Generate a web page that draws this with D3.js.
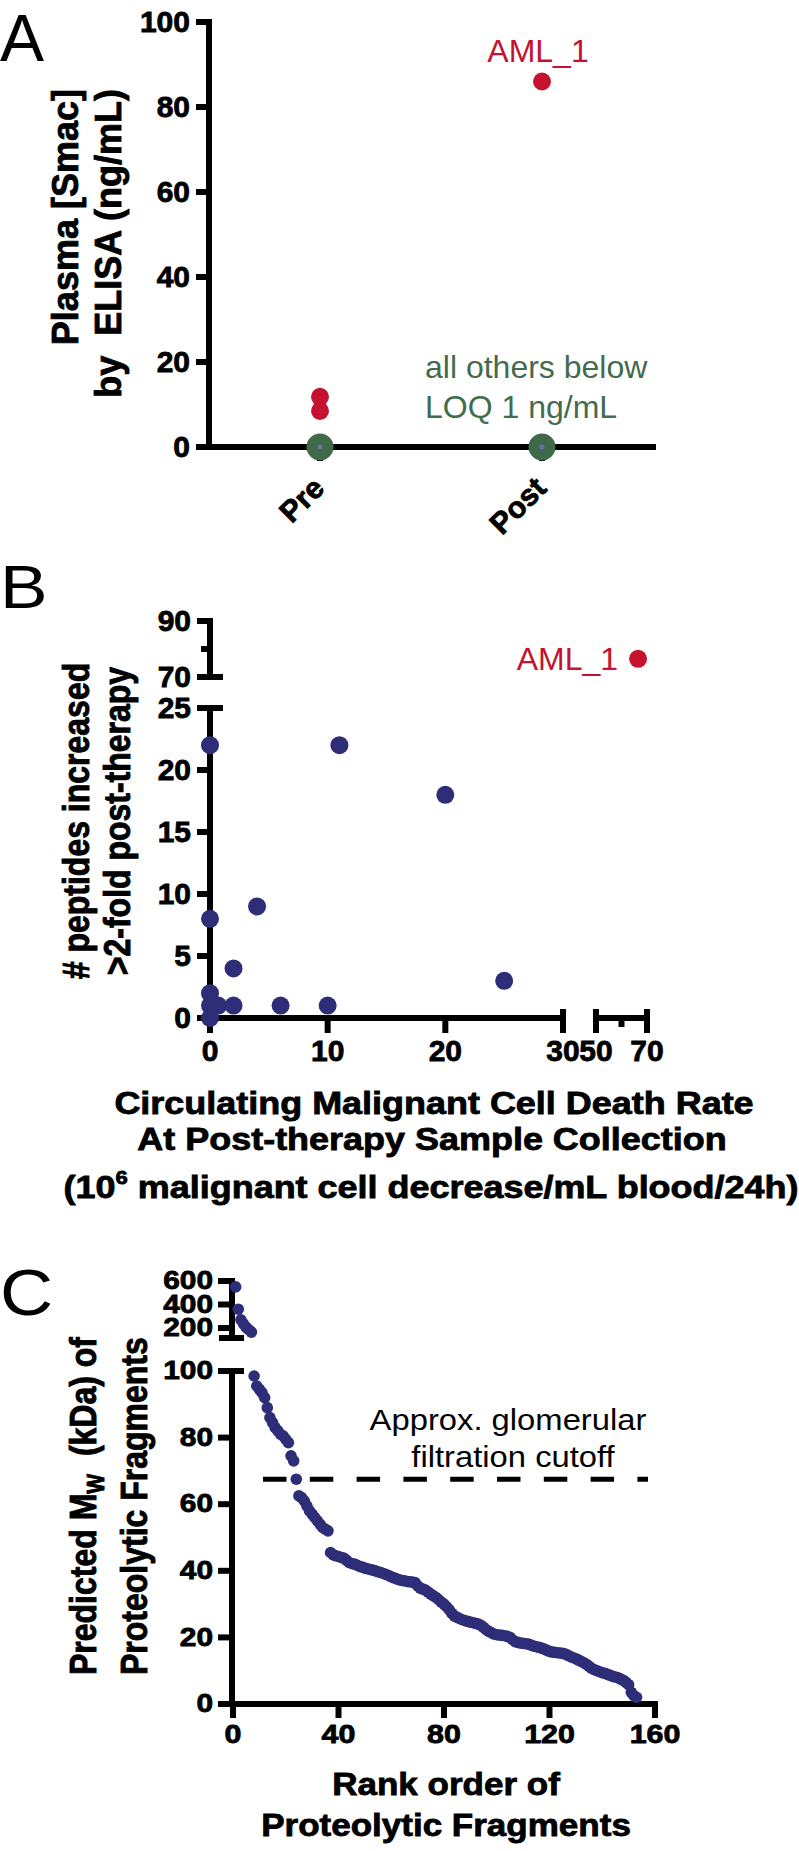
<!DOCTYPE html>
<html><head><meta charset="utf-8">
<script src="https://cdn.jsdelivr.net/npm/d3@7"></script>
<style>
body{margin:0;background:#fff;}
svg{display:block;}
</style></head><body>
<svg id="chart" width="799" height="1851"></svg>
<script>
// ---------------- Panel A data ----------------
const aGroups = ["Pre", "Post"];
const aYTicks = [0, 20, 40, 60, 80, 100];
const aDetectedGroup = ["Pre", "Pre", "Post"];
const aDetectedValue = [11.8, 8.5, 86];
const aBelowGroup = ["Pre", "Post"];
const aBelowValue = [0, 0];
const aDetectedLabel = "AML_1";
const aNote = ["all others below", "LOQ 1 ng/mL"];

// ---------------- Panel B data ----------------
const bRate     = [0, 11, 20, 4, 0, 2, 25, 0, 0, 0.7, 2, 6, 10, 0];
const bPeptides = [22, 22, 18, 9, 8, 4, 3, 2, 1, 1, 1, 1, 1, 0];
const bAmlRate = [66.5];
const bAmlPeptides = [76.5];
const bYTicksLow = [0, 5, 10, 15, 20, 25];
const bYTicksHigh = [70, 90];
const bYMinorHigh = [80];
const bXTicksLow = [0, 10, 20, 30];
const bXTicksHigh = [50, 70];
const bXMinorHigh = [60];

// ---------------- Panel C data ----------------
const cMw = [550, 360, 270, 235, 205, 185, 165,
  98.5, 95.5, 94.5, 93.5, 92, 89, 86, 84.5, 83, 82, 81, 80.5, 79.5, 78.5,
  74.5, 73, 67.5, 62.5, 62, 61, 59.5, 58, 57, 56, 55, 54, 53, 52.5, 52,
  45.5, 44.8, 44.5, 44.3, 44, 43.8, 43.2, 42.5, 42.2, 42, 41.7, 41.3, 41.1, 40.8,
  40.6, 40.4, 40.2, 40, 39.7, 39.5, 39.2, 38.9, 38.6, 38.2, 37.9, 37.6, 37.3, 37.1,
  37, 36.8, 36.7, 36.6, 36.5, 35.5, 34.8, 34.5, 34.2, 33.6, 33, 32.5, 32, 31.3,
  30.6, 30, 29.2, 28.3, 27.2, 26.4, 26, 25.6, 25.3, 25, 24.8, 24.6, 24.4, 24.2,
  24, 23.6, 23, 22.3, 21.8, 21.4, 21, 20.8, 20.7, 20.6, 20.5, 20.3, 20, 19.3,
  18.7, 18.5, 18.3, 18.2, 18.1, 18, 17.7, 17.4, 17.2, 17, 16.8, 16.5, 16.1, 15.8,
  15.6, 15.5, 15.4, 15.3, 15.2, 15, 14.6, 14.2, 13.9, 13.6, 13.2, 12.8, 12.4, 11.9,
  11.3, 10.7, 10.3, 10, 9.7, 9.4, 9.2, 8.9, 8.6, 8.3, 8.1, 7.9, 7.5, 7.1, 6.5, 5.8,
  3.5, 2.5, 2];
const cRank = cMw.map((d, i) => i + 1);
const cCutoff = [67.5];
const cYTicksLow = [0, 20, 40, 60, 80, 100];
const cYTicksHigh = [200, 400, 600];
const cXTicks = [0, 40, 80, 120, 160];
const cCutoffLabel = ["Approx. glomerular", "filtration cutoff"];

// ---------------- styling ----------------
const FONT = "'Liberation Sans', Arial, Helvetica, sans-serif";
const RED = "#c4122f", GREEN = "#436b4d", GREEN_DOT = "#3f6a48", NAVY = "#2d2d78";
const AX = 6;
const BOLD_STROKE = 0.8;

const svg = d3.select("#chart");
svg.append("rect").attr("width", 799).attr("height", 1851).attr("fill", "#fff");

function styleAxis(g, fs, sx) {
  g.attr("font-family", FONT).attr("font-size", fs || 30).attr("font-weight", "bold");
  g.select(".domain").attr("stroke", "#000").attr("stroke-width", AX).attr("stroke-linecap", "square");
  g.selectAll(".tick line").attr("stroke", "#000").attr("stroke-width", AX);
  g.selectAll(".tick text").attr("fill", "#000").attr("stroke", "#000").attr("stroke-width", BOLD_STROKE);
  if (sx && sx !== 1) {
    g.selectAll(".tick text").each(function () {
      const t = d3.select(this); const x = +t.attr("x") || 0;
      t.attr("transform", `translate(${x},0) scale(${sx},1) translate(${-x},0)`);
    });
  }
  return g;
}
function line(g, x1, y1, x2, y2, w) {
  g.append("line").attr("x1", x1).attr("y1", y1).attr("x2", x2).attr("y2", y2)
    .attr("stroke", "#000").attr("stroke-width", w || AX);
}
function txt(g, s, x, y, opt) {
  opt = opt || {};
  let tr = `translate(${x},${y})`;
  if (opt.sx && opt.sx !== 1) tr += ` scale(${opt.sx},1)`;
  if (opt.rot) tr += ` rotate(${opt.rot})`;
  const t = g.append("text").attr("x", 0).attr("y", 0).attr("transform", tr).text(s)
    .attr("font-family", FONT).attr("font-size", opt.size || 30)
    .attr("font-weight", opt.weight || "normal").attr("fill", opt.fill || "#000")
    .attr("text-anchor", opt.anchor || "start");
  if (opt.weight === "bold") t.attr("stroke", opt.fill || "#000").attr("stroke-width", BOLD_STROKE);
  return t;
}

// ================= Panel A =================
const gA = svg.append("g");
const xA = d3.scalePoint().domain(aGroups).range([209, 653]).padding(0.5);
const yA = d3.scaleLinear().domain([0, 100]).range([447, 22]);

styleAxis(gA.append("g").attr("transform", "translate(209,0)")
  .call(d3.axisLeft(yA).tickValues(aYTicks).tickSize(13).tickSizeOuter(0).tickPadding(6).offset(0)));
const axA = gA.append("g").attr("transform", "translate(0,447)")
  .call(d3.axisBottom(xA).tickSize(14).tickSizeOuter(0).tickFormat("").offset(0));
styleAxis(axA);
axA.select(".domain").attr("d", `M209,0H653`);

aGroups.forEach(g => {
  txt(gA, g, xA(g) + 6, 490, {weight: "bold", anchor: "end", rot: -45});
});
gA.selectAll(".below").data(aBelowGroup).join("circle")
  .attr("cx", d => xA(d)).attr("cy", (d, i) => yA(aBelowValue[i])).attr("r", 13.5).attr("fill", GREEN_DOT);
gA.selectAll(".belowc").data(aBelowGroup).join("circle")
  .attr("cx", d => xA(d)).attr("cy", (d, i) => yA(aBelowValue[i])).attr("r", 2.5).attr("fill", "#6a6ab8");
gA.selectAll(".det").data(aDetectedGroup).join("circle")
  .attr("cx", d => xA(d)).attr("cy", (d, i) => yA(aDetectedValue[i])).attr("r", 9).attr("fill", RED);
txt(gA, aDetectedLabel, xA("Post") - 4, yA(aDetectedValue[2]) - 20, {size: 32, fill: RED, anchor: "middle"});
txt(gA, aNote[0], 425, 378, {size: 32, fill: GREEN});
txt(gA, aNote[1], 425, 418, {size: 32, fill: GREEN});
txt(gA, "Plasma [Smac]", 78, 89, {size: 36, weight: "bold", anchor: "end", rot: -90});
txt(gA, "by\u00a0\u00a0ELISA (ng/mL)", 121, 89, {size: 36, weight: "bold", anchor: "end", rot: -90});
txt(gA, "A", 0, 61, {size: 66});

// ================= Panel B =================
const gB = svg.append("g");
const xBLow = d3.scaleLinear().domain([0, 30]).range([210, 563]);
const xBHigh = d3.scaleLinear().domain([50, 70]).range([596, 647]);
const yBLow = d3.scaleLinear().domain([0, 25]).range([1018, 708]);
const yBHigh = d3.scaleLinear().domain([70, 90]).range([677, 621]);

styleAxis(gB.append("g").attr("transform", "translate(210,0)")
  .call(d3.axisLeft(yBLow).tickValues(bYTicksLow).tickSize(13).tickSizeOuter(0).tickPadding(6).offset(0)));
styleAxis(gB.append("g").attr("transform", "translate(210,0)")
  .call(d3.axisLeft(yBHigh).tickValues(bYTicksHigh).tickSize(13).tickSizeOuter(0).tickPadding(6).offset(0)));
bYMinorHigh.forEach(v => line(gB, 210, yBHigh(v), 201, yBHigh(v)));
line(gB, 197, yBHigh(70), 223, yBHigh(70));
line(gB, 197, yBLow(25), 223, yBLow(25));

styleAxis(gB.append("g").attr("transform", "translate(0,1018)")
  .call(d3.axisBottom(xBLow).tickValues(bXTicksLow).tickSize(15).tickSizeOuter(0).tickPadding(7).offset(0)));
styleAxis(gB.append("g").attr("transform", "translate(0,1018)")
  .call(d3.axisBottom(xBHigh).tickValues(bXTicksHigh).tickSize(15).tickSizeOuter(0).tickPadding(7).offset(0)));
bXMinorHigh.forEach(v => line(gB, xBHigh(v), 1018, xBHigh(v), 1027));
[xBLow(30), xBHigh(50), xBHigh(70)].forEach(x => line(gB, x, 1009, x, 1020));

gB.selectAll(".pt").data(bRate).join("circle")
  .attr("cx", d => xBLow(d)).attr("cy", (d, i) => yBLow(bPeptides[i])).attr("r", 9).attr("fill", NAVY);
gB.selectAll(".aml").data(bAmlRate).join("circle")
  .attr("cx", d => xBHigh(d)).attr("cy", (d, i) => yBHigh(bAmlPeptides[i])).attr("r", 9).attr("fill", RED);
txt(gB, "AML_1", xBHigh(bAmlRate[0]) - 20, yBHigh(bAmlPeptides[0]) + 11, {size: 32, fill: RED, anchor: "end"});

txt(gB, "# peptides increased", 89, 821, {size: 32, weight: "bold", anchor: "middle", rot: -90, sx: 1.15});
txt(gB, ">2-fold post-therapy", 130, 821, {size: 32, weight: "bold", anchor: "middle", rot: -90, sx: 1.15});
txt(gB, "Circulating Malignant Cell Death Rate", 434, 1114, {size: 31, weight: "bold", anchor: "middle", sx: 1.16});
txt(gB, "At Post-therapy Sample Collection", 432, 1150, {size: 31, weight: "bold", anchor: "middle", sx: 1.16});
const l3 = txt(gB, "", 431, 1198, {size: 31, weight: "bold", anchor: "middle", sx: 1.16});
l3.append("tspan").text("(10");
l3.append("tspan").text("6").attr("font-size", 19).attr("dy", -14);
l3.append("tspan").text(" malignant cell decrease/mL blood/24h)").attr("dy", 14);
txt(gB, "B", 0, 608, {size: 62, sx: 1.15});

// ================= Panel C =================
const gC = svg.append("g");
const xC = d3.scaleLinear().domain([0, 160]).range([233, 655]);
const yCLow = d3.scaleLinear().domain([0, 100]).range([1704, 1371]);
const yCHigh = d3.scaleLinear().domain([115, 600]).range([1338, 1281]);
const CSX = 1.17;

styleAxis(gC.append("g").attr("transform", "translate(232,0)")
  .call(d3.axisLeft(yCLow).tickValues(cYTicksLow).tickSize(14).tickSizeOuter(0).tickPadding(5).offset(0)), 25.5, CSX);
styleAxis(gC.append("g").attr("transform", "translate(232,0)")
  .call(d3.axisLeft(yCHigh).tickValues(cYTicksHigh).tickSize(14).tickSizeOuter(0).tickPadding(5).offset(0)), 25.5, CSX);
line(gC, 219, yCLow(100), 244, yCLow(100));
line(gC, 219, yCHigh(115), 244, yCHigh(115));
const axC = gC.append("g").attr("transform", "translate(0,1704)")
  .call(d3.axisBottom(xC).tickValues(cXTicks).tickSize(14).tickSizeOuter(0).tickPadding(7).offset(0));
styleAxis(axC, 26, CSX);

gC.append("line").attr("x1", 263).attr("x2", 648)
  .attr("y1", yCLow(cCutoff[0])).attr("y2", yCLow(cCutoff[0]))
  .attr("stroke", "#000").attr("stroke-width", 5).attr("stroke-dasharray", "23.5 23.3");

gC.selectAll(".pt").data(cMw).join("circle")
  .attr("cx", (d, i) => xC(cRank[i]))
  .attr("cy", d => d > 100 ? yCHigh(d) : yCLow(d))
  .attr("r", 5.8).attr("fill", NAVY);

txt(gC, cCutoffLabel[0], 508, 1430, {size: 29, anchor: "middle", sx: 1.13});
txt(gC, cCutoffLabel[1], 513, 1467, {size: 29, anchor: "middle", sx: 1.13});

const cy1 = txt(gC, "", 96, 1675, {size: 32, weight: "bold", rot: -90, sx: 1.15});
cy1.append("tspan").text("Predicted M");
cy1.append("tspan").text("W").attr("font-size", 21).attr("dy", 7);
cy1.append("tspan").text("\u00a0\u00a0(kDa) of").attr("dy", -7);
txt(gC, "Proteolytic Fragments", 147, 1675, {size: 32, weight: "bold", rot: -90, sx: 1.15});
txt(gC, "Rank order of", 446, 1795, {size: 31, weight: "bold", anchor: "middle", sx: 1.13});
txt(gC, "Proteolytic Fragments", 446, 1836, {size: 31, weight: "bold", anchor: "middle", sx: 1.13});
txt(gC, "C", 0, 1315, {size: 64, sx: 1.15});
</script>
</body></html>
